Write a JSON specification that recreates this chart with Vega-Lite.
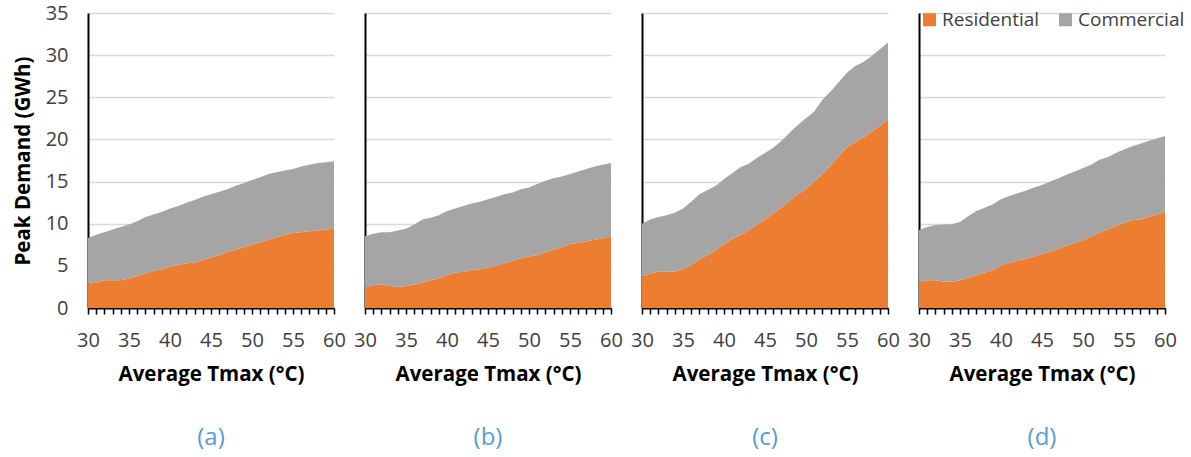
{
  "$schema": "https://vega.github.io/schema/vega-lite/v6.json",
  "padding": {"left": 13, "top": 3, "right": 0, "bottom": 5},
  "bounds": "flush",
  "spacing": 31,
  "datasets": {
    "d": [
      {"p":"a","t":30,"Residential":2.9,"Commercial":5.4},{"p":"a","t":31,"Residential":3.0,"Commercial":5.7},{"p":"a","t":32,"Residential":3.3,"Commercial":5.7},{"p":"a","t":33,"Residential":3.3,"Commercial":6.0},{"p":"a","t":34,"Residential":3.3,"Commercial":6.3},{"p":"a","t":35,"Residential":3.5,"Commercial":6.4},{"p":"a","t":36,"Residential":3.8,"Commercial":6.5},{"p":"a","t":37,"Residential":4.1,"Commercial":6.7},{"p":"a","t":38,"Residential":4.4,"Commercial":6.7},{"p":"a","t":39,"Residential":4.6,"Commercial":6.8},{"p":"a","t":40,"Residential":4.9,"Commercial":6.9},{"p":"a","t":41,"Residential":5.1,"Commercial":7.0},{"p":"a","t":42,"Residential":5.3,"Commercial":7.2},{"p":"a","t":43,"Residential":5.4,"Commercial":7.4},{"p":"a","t":44,"Residential":5.7,"Commercial":7.5},{"p":"a","t":45,"Residential":6.0,"Commercial":7.5},{"p":"a","t":46,"Residential":6.3,"Commercial":7.5},{"p":"a","t":47,"Residential":6.6,"Commercial":7.5},{"p":"a","t":48,"Residential":6.9,"Commercial":7.6},{"p":"a","t":49,"Residential":7.2,"Commercial":7.6},{"p":"a","t":50,"Residential":7.5,"Commercial":7.7},{"p":"a","t":51,"Residential":7.8,"Commercial":7.7},{"p":"a","t":52,"Residential":8.1,"Commercial":7.8},{"p":"a","t":53,"Residential":8.4,"Commercial":7.7},{"p":"a","t":54,"Residential":8.7,"Commercial":7.6},{"p":"a","t":55,"Residential":8.9,"Commercial":7.6},{"p":"a","t":56,"Residential":9.0,"Commercial":7.8},{"p":"a","t":57,"Residential":9.1,"Commercial":7.9},{"p":"a","t":58,"Residential":9.2,"Commercial":8.0},{"p":"a","t":59,"Residential":9.3,"Commercial":8.0},{"p":"a","t":60,"Residential":9.4,"Commercial":8.0},
      {"p":"b","t":30,"Residential":2.5,"Commercial":6.0},{"p":"b","t":31,"Residential":2.7,"Commercial":6.1},{"p":"b","t":32,"Residential":2.8,"Commercial":6.2},{"p":"b","t":33,"Residential":2.6,"Commercial":6.4},{"p":"b","t":34,"Residential":2.5,"Commercial":6.7},{"p":"b","t":35,"Residential":2.6,"Commercial":6.8},{"p":"b","t":36,"Residential":2.8,"Commercial":7.1},{"p":"b","t":37,"Residential":3.0,"Commercial":7.5},{"p":"b","t":38,"Residential":3.3,"Commercial":7.4},{"p":"b","t":39,"Residential":3.5,"Commercial":7.5},{"p":"b","t":40,"Residential":3.9,"Commercial":7.6},{"p":"b","t":41,"Residential":4.2,"Commercial":7.6},{"p":"b","t":42,"Residential":4.3,"Commercial":7.8},{"p":"b","t":43,"Residential":4.5,"Commercial":7.9},{"p":"b","t":44,"Residential":4.6,"Commercial":8.0},{"p":"b","t":45,"Residential":4.8,"Commercial":8.1},{"p":"b","t":46,"Residential":5.0,"Commercial":8.2},{"p":"b","t":47,"Residential":5.3,"Commercial":8.2},{"p":"b","t":48,"Residential":5.6,"Commercial":8.1},{"p":"b","t":49,"Residential":5.9,"Commercial":8.2},{"p":"b","t":50,"Residential":6.1,"Commercial":8.2},{"p":"b","t":51,"Residential":6.3,"Commercial":8.4},{"p":"b","t":52,"Residential":6.6,"Commercial":8.5},{"p":"b","t":53,"Residential":6.9,"Commercial":8.5},{"p":"b","t":54,"Residential":7.2,"Commercial":8.4},{"p":"b","t":55,"Residential":7.6,"Commercial":8.3},{"p":"b","t":56,"Residential":7.7,"Commercial":8.5},{"p":"b","t":57,"Residential":7.9,"Commercial":8.6},{"p":"b","t":58,"Residential":8.1,"Commercial":8.7},{"p":"b","t":59,"Residential":8.3,"Commercial":8.7},{"p":"b","t":60,"Residential":8.5,"Commercial":8.7},
      {"p":"c","t":30,"Residential":3.7,"Commercial":6.3},{"p":"c","t":31,"Residential":4.1,"Commercial":6.4},{"p":"c","t":32,"Residential":4.3,"Commercial":6.5},{"p":"c","t":33,"Residential":4.3,"Commercial":6.7},{"p":"c","t":34,"Residential":4.3,"Commercial":7.0},{"p":"c","t":35,"Residential":4.6,"Commercial":7.2},{"p":"c","t":36,"Residential":5.1,"Commercial":7.5},{"p":"c","t":37,"Residential":5.8,"Commercial":7.7},{"p":"c","t":38,"Residential":6.3,"Commercial":7.7},{"p":"c","t":39,"Residential":6.8,"Commercial":7.7},{"p":"c","t":40,"Residential":7.6,"Commercial":7.7},{"p":"c","t":41,"Residential":8.2,"Commercial":7.8},{"p":"c","t":42,"Residential":8.7,"Commercial":8.0},{"p":"c","t":43,"Residential":9.2,"Commercial":7.9},{"p":"c","t":44,"Residential":9.9,"Commercial":7.9},{"p":"c","t":45,"Residential":10.5,"Commercial":7.9},{"p":"c","t":46,"Residential":11.2,"Commercial":7.8},{"p":"c","t":47,"Residential":11.9,"Commercial":7.9},{"p":"c","t":48,"Residential":12.7,"Commercial":8.1},{"p":"c","t":49,"Residential":13.5,"Commercial":8.2},{"p":"c","t":50,"Residential":14.1,"Commercial":8.4},{"p":"c","t":51,"Residential":15.0,"Commercial":8.3},{"p":"c","t":52,"Residential":15.9,"Commercial":8.8},{"p":"c","t":53,"Residential":16.9,"Commercial":8.8},{"p":"c","t":54,"Residential":18.0,"Commercial":8.8},{"p":"c","t":55,"Residential":19.1,"Commercial":8.8},{"p":"c","t":56,"Residential":19.7,"Commercial":9.0},{"p":"c","t":57,"Residential":20.2,"Commercial":9.0},{"p":"c","t":58,"Residential":20.9,"Commercial":9.0},{"p":"c","t":59,"Residential":21.6,"Commercial":9.1},{"p":"c","t":60,"Residential":22.4,"Commercial":9.1},
      {"p":"d","t":30,"Residential":3.1,"Commercial":6.15},{"p":"d","t":31,"Residential":3.3,"Commercial":6.3},{"p":"d","t":32,"Residential":3.3,"Commercial":6.55},{"p":"d","t":33,"Residential":3.1,"Commercial":6.8},{"p":"d","t":34,"Residential":3.1,"Commercial":6.85},{"p":"d","t":35,"Residential":3.3,"Commercial":6.9},{"p":"d","t":36,"Residential":3.6,"Commercial":7.3},{"p":"d","t":37,"Residential":3.9,"Commercial":7.6},{"p":"d","t":38,"Residential":4.2,"Commercial":7.7},{"p":"d","t":39,"Residential":4.5,"Commercial":7.8},{"p":"d","t":40,"Residential":5.0,"Commercial":7.9},{"p":"d","t":41,"Residential":5.4,"Commercial":7.9},{"p":"d","t":42,"Residential":5.6,"Commercial":8.0},{"p":"d","t":43,"Residential":5.8,"Commercial":8.1},{"p":"d","t":44,"Residential":6.1,"Commercial":8.2},{"p":"d","t":45,"Residential":6.4,"Commercial":8.2},{"p":"d","t":46,"Residential":6.7,"Commercial":8.3},{"p":"d","t":47,"Residential":7.0,"Commercial":8.4},{"p":"d","t":48,"Residential":7.4,"Commercial":8.4},{"p":"d","t":49,"Residential":7.7,"Commercial":8.5},{"p":"d","t":50,"Residential":8.0,"Commercial":8.6},{"p":"d","t":51,"Residential":8.5,"Commercial":8.5},{"p":"d","t":52,"Residential":8.9,"Commercial":8.7},{"p":"d","t":53,"Residential":9.3,"Commercial":8.6},{"p":"d","t":54,"Residential":9.7,"Commercial":8.7},{"p":"d","t":55,"Residential":10.1,"Commercial":8.7},{"p":"d","t":56,"Residential":10.4,"Commercial":8.8},{"p":"d","t":57,"Residential":10.5,"Commercial":9.0},{"p":"d","t":58,"Residential":10.8,"Commercial":9.0},{"p":"d","t":59,"Residential":11.1,"Commercial":9.0},{"p":"d","t":60,"Residential":11.4,"Commercial":9.0}
    ]
  },
  "hconcat": [
    {
      "data": {"name": "d"},
      "transform": [{"filter": "datum.p === 'a'"}, {"fold": ["Residential", "Commercial"], "as": ["type", "value"]}],
      "width": 246, "height": 295,
      "title": {"text": "(a)"},
      "mark": {"type": "area"},
      "encoding": {
        "x": {"field": "t", "type": "quantitative", "scale": {"domain": [30, 60], "nice": false, "zero": false},
              "axis": {"values": [30,31,32,33,34,35,36,37,38,39,40,41,42,43,44,45,46,47,48,49,50,51,52,53,54,55,56,57,58,59,60], "labelExpr": "datum.value % 5 === 0 ? datum.label : ''", "title": "Average Tmax (°C)"}},
        "y": {"field": "value", "type": "quantitative", "stack": "zero", "scale": {"domain": [0, 35], "nice": false},
              "axis": {"values": [0,5,10,15,20,25,30,35], "ticks": false, "labelPadding": 20, "title": "Peak Demand (GWh)", "titlePadding": 12, "grid": true}},
        "color": {"field": "type", "type": "nominal", "title": null, "scale": {"domain": ["Residential", "Commercial"], "range": ["#ed7d31", "#a5a5a5"]}},
        "order": {"field": "type", "sort": "descending"}
      }
    },
    {
      "data": {"name": "d"},
      "transform": [{"filter": "datum.p === 'b'"}, {"fold": ["Residential", "Commercial"], "as": ["type", "value"]}],
      "width": 246, "height": 295,
      "title": {"text": "(b)"},
      "mark": {"type": "area"},
      "encoding": {
        "x": {"field": "t", "type": "quantitative", "scale": {"domain": [30, 60], "nice": false, "zero": false},
              "axis": {"values": [30,31,32,33,34,35,36,37,38,39,40,41,42,43,44,45,46,47,48,49,50,51,52,53,54,55,56,57,58,59,60], "labelExpr": "datum.value % 5 === 0 ? datum.label : ''", "title": "Average Tmax (°C)"}},
        "y": {"field": "value", "type": "quantitative", "stack": "zero", "scale": {"domain": [0, 35], "nice": false},
              "axis": {"values": [0,5,10,15,20,25,30,35], "ticks": false, "labels": false, "title": null, "grid": true}},
        "color": {"field": "type", "type": "nominal", "title": null, "scale": {"domain": ["Residential", "Commercial"], "range": ["#ed7d31", "#a5a5a5"]}},
        "order": {"field": "type", "sort": "descending"}
      }
    },
    {
      "data": {"name": "d"},
      "transform": [{"filter": "datum.p === 'c'"}, {"fold": ["Residential", "Commercial"], "as": ["type", "value"]}],
      "width": 246, "height": 295,
      "title": {"text": "(c)"},
      "mark": {"type": "area"},
      "encoding": {
        "x": {"field": "t", "type": "quantitative", "scale": {"domain": [30, 60], "nice": false, "zero": false},
              "axis": {"values": [30,31,32,33,34,35,36,37,38,39,40,41,42,43,44,45,46,47,48,49,50,51,52,53,54,55,56,57,58,59,60], "labelExpr": "datum.value % 5 === 0 ? datum.label : ''", "title": "Average Tmax (°C)"}},
        "y": {"field": "value", "type": "quantitative", "stack": "zero", "scale": {"domain": [0, 35], "nice": false},
              "axis": {"values": [0,5,10,15,20,25,30,35], "ticks": false, "labels": false, "title": null, "grid": true}},
        "color": {"field": "type", "type": "nominal", "title": null, "scale": {"domain": ["Residential", "Commercial"], "range": ["#ed7d31", "#a5a5a5"]}},
        "order": {"field": "type", "sort": "descending"}
      }
    },
    {
      "data": {"name": "d"},
      "transform": [{"filter": "datum.p === 'd'"}, {"fold": ["Residential", "Commercial"], "as": ["type", "value"]}],
      "width": 246, "height": 295,
      "title": {"text": "(d)"},
      "mark": {"type": "area"},
      "encoding": {
        "x": {"field": "t", "type": "quantitative", "scale": {"domain": [30, 60], "nice": false, "zero": false},
              "axis": {"values": [30,31,32,33,34,35,36,37,38,39,40,41,42,43,44,45,46,47,48,49,50,51,52,53,54,55,56,57,58,59,60], "labelExpr": "datum.value % 5 === 0 ? datum.label : ''", "title": "Average Tmax (°C)"}},
        "y": {"field": "value", "type": "quantitative", "stack": "zero", "scale": {"domain": [0, 35], "nice": false},
              "axis": {"values": [0,5,10,15,20,25,30,35], "ticks": false, "labels": false, "title": null, "grid": true}},
        "color": {"field": "type", "type": "nominal", "title": null, "scale": {"domain": ["Residential", "Commercial"], "range": ["#ed7d31", "#a5a5a5"]}},
        "order": {"field": "type", "sort": "descending"}
      }
    }
  ],
  "config": {
    "font": "Open Sans",
    "view": {"stroke": null},
    "axis": {"domainColor": "black", "domainWidth": 2, "tickColor": "black", "tickWidth": 1.5, "tickSize": 6, "labelColor": "#404040", "labelFontSize": 20, "titleFontSize": 20.5, "titleFontWeight": "bold", "titleColor": "black", "gridColor": "#d9d9d9", "gridWidth": 1.5},
    "axisX": {"grid": false, "labelPadding": 16, "titlePadding": 14, "labelFlush": false, "labelOverlap": false, "labelBound": false},
    "title": {"orient": "bottom", "color": "#5b9bd5", "fontSize": 24, "fontWeight": "normal", "font": "Liberation Sans Narrow, Open Sans", "offset": 41, "anchor": "middle"},
    "legend": {"orient": "none", "legendX": 832, "legendY": -3, "direction": "horizontal", "symbolType": "square", "symbolSize": 170, "symbolStrokeWidth": 0, "symbolOpacity": 1, "labelFontSize": 19, "labelColor": "#404040", "columnPadding": 16, "labelOffset": 3, "padding": 0}
  }
}
